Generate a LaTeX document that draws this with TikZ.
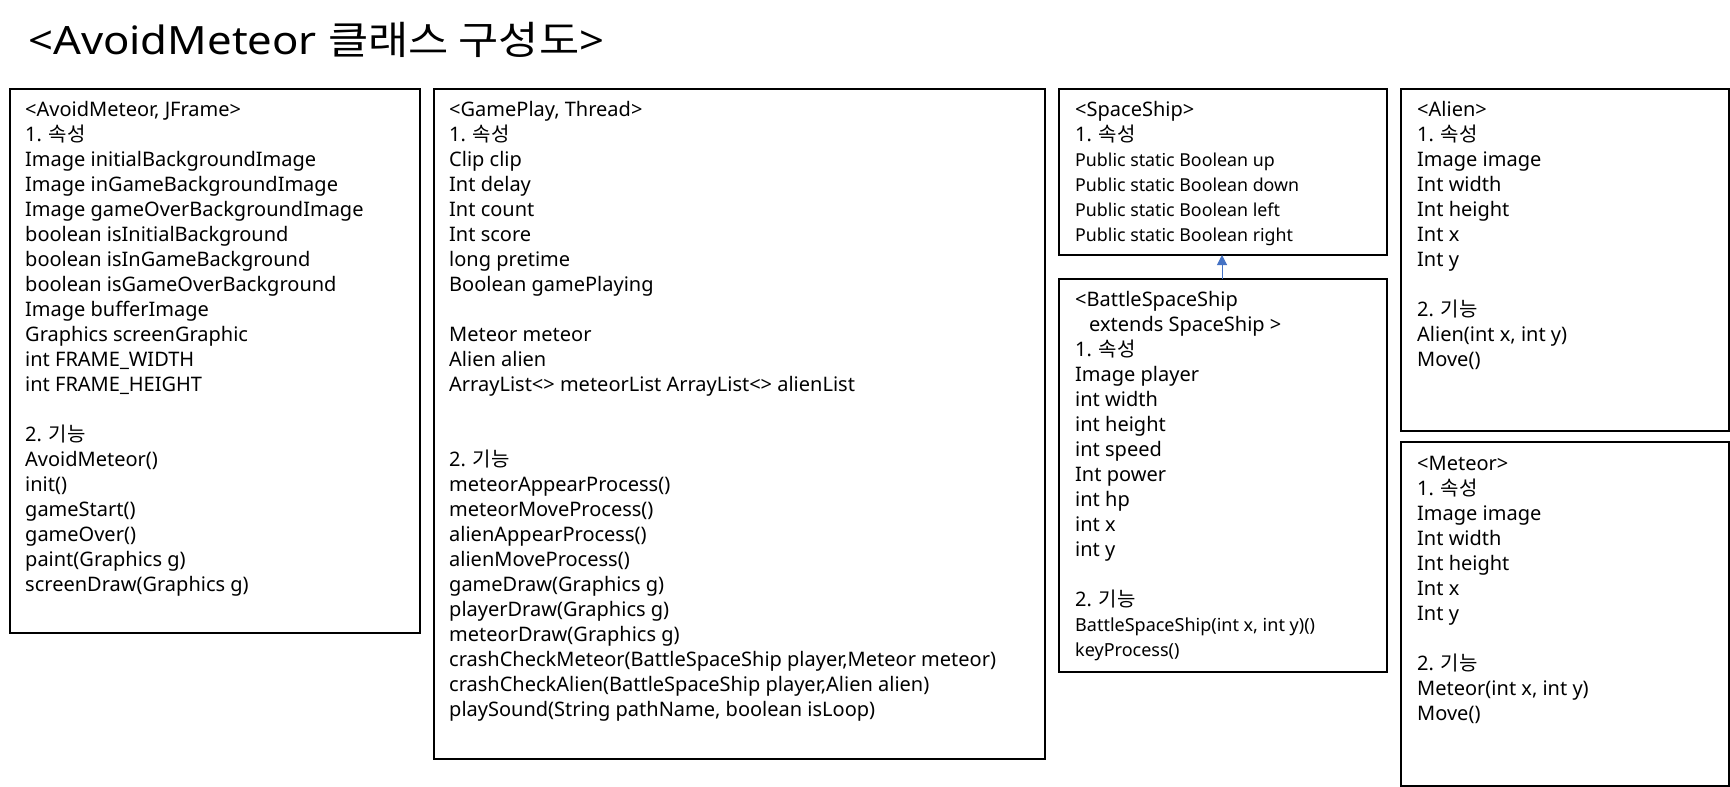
\documentclass[tikz,border=0pt]{standalone}
\usepackage{fontspec}
\setmainfont{Noto Sans}
\newfontfamily\kr{Noto Sans CJK KR}
\newfontfamily\titlelat[FakeStretch=1.12]{Noto Sans}
\newfontfamily\titlekr[FakeStretch=1.12]{Noto Sans CJK KR}
\usetikzlibrary{arrows.meta}
\definecolor{arrowblue}{HTML}{4472C4}
\newcommand\smf{\fontsize{18}{20}\selectfont}
\newcommand\ssf{\fontsize{17.8}{20}\selectfont}
\newcommand\sok{1. {\kr 속성}}
\newcommand\gin{2. {\kr 기능}}
\newcommand\boxlines[4]{%
  \foreach \t [count=\i] in {#4} {
    \node[txt] (#1-\i) at (#2, {#3+25*(\i-1)}) {\t};
  }}
\begin{document}
\begin{tikzpicture}[x=1pt,y=-1pt,
  classbox/.style={draw=black, line width=1.6pt, fill=none},
  txt/.style={anchor=base west, inner sep=0pt, font=\fontsize{20}{25}\selectfont},
  titletxt/.style={anchor=base west, inner sep=0pt, font=\fontsize{39}{45}\selectfont},
  inherit/.style={draw=arrowblue, line width=1pt, -{Triangle[width=10pt,length=10pt]}}]
\useasboundingbox (0,0) rectangle (1730,787);
\fill[white] (0,0) rectangle (1730,787);

\node[titletxt] (title) at (28,54) {\titlelat <AvoidMeteor {\titlekr 클래스 구성도}>};

% boxes
\draw[classbox] (10,89) rectangle (420,633);
\draw[classbox] (434,89) rectangle (1045,759);
\draw[classbox] (1059,89) rectangle (1387,255);
\draw[classbox] (1059,279) rectangle (1387,672);
\draw[classbox] (1401,89) rectangle (1729,431);
\draw[classbox] (1401,442) rectangle (1729,786);

\coordinate (ssbottom) at (1222,255);
\coordinate (bsstop) at (1222,279);

% AvoidMeteor
\boxlines{am}{25}{116}{{<AvoidMeteor, JFrame>},\sok,Image initialBackgroundImage,Image inGameBackgroundImage,Image gameOverBackgroundImage,boolean isInitialBackground,boolean isInGameBackground,boolean isGameOverBackground,Image bufferImage,Graphics screenGraphic,int FRAME\_WIDTH,int FRAME\_HEIGHT,{},\gin,AvoidMeteor(),init(),gameStart(),gameOver(),paint(Graphics g),screenDraw(Graphics g)}

% GamePlay
\boxlines{gp}{449}{116}{{<GamePlay, Thread>},\sok,Clip clip,Int delay,Int count,Int score,long pretime,Boolean gamePlaying,{},Meteor meteor,Alien alien,ArrayList<> meteorList ArrayList<> alienList,{},{},\gin,meteorAppearProcess(),meteorMoveProcess(),alienAppearProcess(),alienMoveProcess(),gameDraw(Graphics g),playerDraw(Graphics g),meteorDraw(Graphics g),{crashCheckMeteor(BattleSpaceShip player,Meteor meteor)},{crashCheckAlien(BattleSpaceShip player,Alien alien)},{playSound(String pathName, boolean isLoop)}}

% SpaceShip
\boxlines{ss}{1075}{116}{<SpaceShip>,\sok,\ssf Public static Boolean up,\ssf Public static Boolean down,\ssf Public static Boolean left,\ssf Public static Boolean right}

% BattleSpaceShip
\boxlines{bss}{1075}{306}{<BattleSpaceShip,\hspace*{14pt}extends SpaceShip >,\sok,Image player,int width,int height,int speed,Int power,int hp,int x,int y,{},\gin,{\smf BattleSpaceShip(int x, int y)()},\smf keyProcess()}

% Alien
\boxlines{al}{1417}{116}{<Alien>,\sok,Image image,Int width,Int height,Int x,Int y,{},\gin,{Alien(int x, int y)},Move()}

% Meteor
\boxlines{me}{1417}{470}{<Meteor>,\sok,Image image,Int width,Int height,Int x,Int y,{},\gin,{Meteor(int x, int y)},Move()}

\draw[inherit] (bsstop) -- (ssbottom);
\end{tikzpicture}
\end{document}
